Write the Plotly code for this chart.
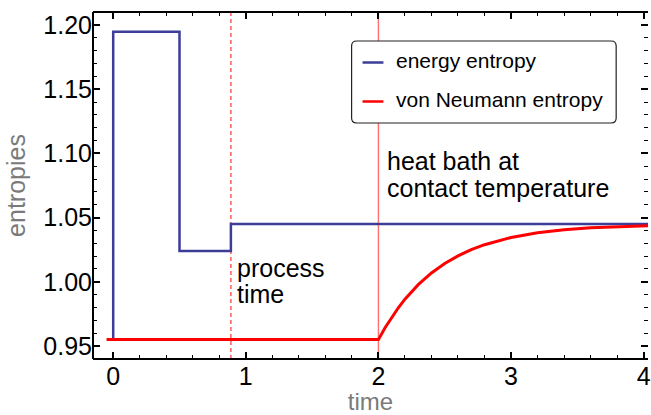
import plotly.graph_objects as go

# ---- data ----
energy_t = [0.0, 0.0, 0.5, 0.5, 0.8875, 0.8875, 4.1]
energy_s = [0.955, 1.1948, 1.1948, 1.024, 1.024, 1.045, 1.045]

vn_t = [-0.05, 2.0, 2.05, 2.1, 2.15, 2.2, 2.3, 2.4, 2.5, 2.6, 2.7, 2.8, 2.9,
        3.0, 3.2, 3.4, 3.6, 3.8, 4.0, 4.1]
vn_s = [0.955, 0.955, 0.9642, 0.9724, 0.9798, 0.9865, 0.9978, 1.0069, 1.0143,
        1.0202, 1.0250, 1.0289, 1.0320, 1.0345, 1.0382, 1.0406, 1.0421, 1.0431,
        1.0438, 1.0440]

process_time = 0.8875
bath_time = 2.0

x_ticks = [0, 1, 2, 3, 4]
y_ticks = [0.95, 1.00, 1.05, 1.10, 1.15, 1.20]
y_ticktext = ["0.95", "1.00", "1.05", "1.10", "1.15", "1.20"]

series_names = ["energy entropy", "von Neumann entropy"]
series_colors = ["#3d3d99", "#ff0000"]

# ---- layout geometry (pixels) ----
W, H = 651, 415
ML, MR, MT, MB = 93, 0, 12, 56
PW, PH = W - ML - MR, H - MT - MB
FONT = "Liberation Sans, Arial, Helvetica, sans-serif"


def px(x):
    return (x - ML) / PW


def py(y):
    return (H - MB - y) / PH


fig = go.Figure()
fig.add_trace(go.Scatter(x=energy_t, y=energy_s, mode="lines", name=series_names[0],
                         line=dict(color=series_colors[0], width=2.5), showlegend=False))
fig.add_trace(go.Scatter(x=vn_t, y=vn_s, mode="lines", name=series_names[1],
                         line=dict(color=series_colors[1], width=3), showlegend=False))

shapes = []
# vertical marker lines
shapes.append(dict(type="line", xref="x", yref="paper", x0=process_time, x1=process_time,
                   y0=0, y1=1, line=dict(color="#ff5c5c", width=1.5, dash="4px,3px"), layer="below"))
shapes.append(dict(type="line", xref="x", yref="paper", x0=bath_time, x1=bath_time,
                   y0=0, y1=1, line=dict(color="#ff7070", width=1.4), layer="below"))
# frame (left, bottom, top)
for (x0, y0, x1, y1) in [(0, 0, 0, 1), (0, 0, 1, 0), (0, 1, 1, 1)]:
    shapes.append(dict(type="line", xref="paper", yref="paper", x0=x0, y0=y0, x1=x1, y1=y1,
                       line=dict(color="black", width=2), layer="above"))

# legend box with rounded corners
bx0, bx1, by0, by1, r = 353, 619, 41, 123, 5
pts = (f"M {px(bx0 + r)},{py(by0)} L {px(bx1 - r)},{py(by0)} "
       f"Q {px(bx1)},{py(by0)} {px(bx1)},{py(by0 + r)} L {px(bx1)},{py(by1 - r)} "
       f"Q {px(bx1)},{py(by1)} {px(bx1 - r)},{py(by1)} L {px(bx0 + r)},{py(by1)} "
       f"Q {px(bx0)},{py(by1)} {px(bx0)},{py(by1 - r)} L {px(bx0)},{py(by0 + r)} "
       f"Q {px(bx0)},{py(by0)} {px(bx0 + r)},{py(by0)} Z")
shapes.append(dict(type="path", xref="paper", yref="paper", path=pts,
                   line=dict(color="#222222", width=1.2), fillcolor="white", layer="above"))

annotations = []
leg_rows = [62.5, 101.5]
for name, color, yy in zip(series_names, series_colors, leg_rows):
    shapes.append(dict(type="line", xref="paper", yref="paper", x0=px(364), x1=px(385),
                       y0=py(yy), y1=py(yy), line=dict(color=color, width=2.5), layer="above"))
    annotations.append(dict(text=name, xref="paper", yref="paper", x=px(396), y=py(yy - 2),
                            xanchor="left", yanchor="middle", showarrow=False,
                            font=dict(family=FONT, size=21, color="black")))

# text labels
for txt, xx, yy in [("process", 236, 267.5), ("time", 236, 294),
                    ("heat bath at", 387, 161), ("contact temperature", 387, 187.5)]:
    annotations.append(dict(text=txt, xref="paper", yref="paper", x=px(xx), y=py(yy),
                            xanchor="left", yanchor="middle", showarrow=False,
                            font=dict(family=FONT, size=25, color="black")))

axis_common = dict(showline=False, showgrid=False, zeroline=False, ticks="inside",
                   ticklen=7, tickwidth=1.5, tickcolor="black", mirror="allticks",
                   ticklabeloverflow="allow",
                   tickfont=dict(family=FONT, size=25, color="black"))

fig.update_layout(
    width=W, height=H,
    margin=dict(l=ML, r=MR, t=MT, b=MB, pad=0),
    paper_bgcolor="white", plot_bgcolor="white",
    shapes=shapes, annotations=annotations,
    xaxis=dict(range=[-0.1523, 4.0328], tickvals=x_ticks,
               minor=dict(dtick=0.2, tick0=0, ticks="inside", ticklen=4, tickwidth=1.2,
                          tickcolor="black", showgrid=False),
               title=dict(text="time", font=dict(family=FONT, size=24, color="#7a7a7a"),
                          standoff=3),
               **axis_common),
    yaxis=dict(range=[0.9399, 1.2101], tickvals=y_ticks, ticktext=y_ticktext,
               minor=dict(dtick=0.01, tick0=0.95, ticks="inside", ticklen=4, tickwidth=1.2,
                          tickcolor="black", showgrid=False),
               title=dict(text="entropies", font=dict(family=FONT, size=25, color="#7a7a7a"),
                          standoff=10),
               **axis_common),
)

fig.write_html("out.html")
